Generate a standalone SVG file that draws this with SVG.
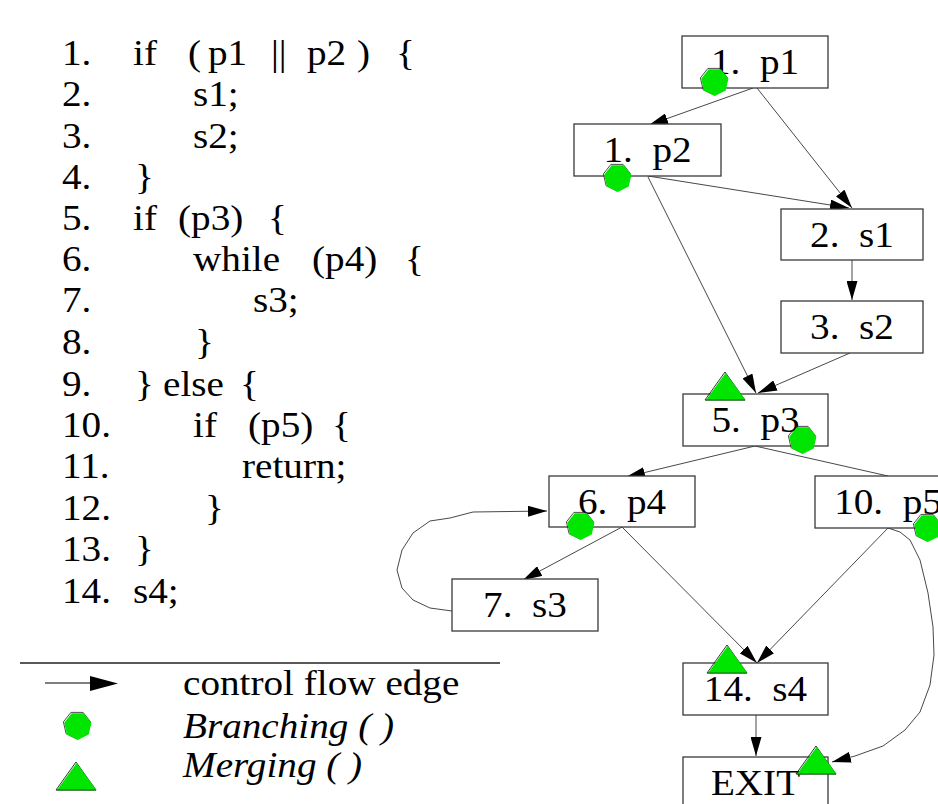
<svg xmlns="http://www.w3.org/2000/svg" xmlns:xlink="http://www.w3.org/1999/xlink" width="938" height="804" viewBox="0 0 938 804">
<style>
.t{font-family:"Liberation Serif","Times New Roman",serif;font-size:35px;fill:#000}
.i{font-style:italic}
.box{fill:#fff;stroke:#3a3a3a;stroke-width:1.3}
.edge{fill:none;stroke:#333;stroke-width:0.9}
.arr{marker-end:url(#ah)}
</style>
<defs>
<marker id="ah" viewBox="0 0 19 11" refX="19" refY="5.5" markerWidth="19" markerHeight="11" markerUnits="userSpaceOnUse" orient="auto">
<path d="M0,0 L19,5.5 L0,11 z" fill="#000"/>
</marker>
<!-- branching marker: heptagon, outline with the green fill slightly offset -->
<g id="branch">
<polygon points="0,14 -10.9,8.7 -13.6,-3.1 -6.1,-12.6 6.1,-12.6 13.6,-3.1 10.9,8.7" fill="none" stroke="#222" stroke-width="0.8"/>
<polygon points="0,14 -10.9,8.7 -13.6,-3.1 -6.1,-12.6 6.1,-12.6 13.6,-3.1 10.9,8.7" fill="#00e600" transform="translate(0.8 0.9)"/>
</g>
<!-- merging marker: triangle -->
<g id="merge">
<polygon points="0,0 -20,28 20,28" fill="none" stroke="#222" stroke-width="0.9"/>
<polygon points="0.6,1 -19.2,28.3 20.6,28.3" fill="#00e600"/>
<line x1="-19.5" y1="28" x2="20" y2="28" stroke="#1d5a1d" stroke-width="0.9"/>
</g>
</defs>

<!-- source listing -->
<g id="code">
<text class="t" transform="translate(62 65) scale(1.12 1)">1.</text>
<text class="t" transform="translate(133 65) scale(1.12 1)">if</text>
<text class="t" transform="translate(188 65) scale(1.12 1)">(</text>
<text class="t" transform="translate(208 65) scale(1.12 1)">p1</text>
<text class="t" transform="translate(271 65) scale(1.12 1)">||</text>
<text class="t" transform="translate(307 65) scale(1.12 1)">p2</text>
<text class="t" transform="translate(357 65) scale(1.12 1)">)</text>
<text class="t" transform="translate(396 65) scale(1.12 1)">{</text>

<text class="t" transform="translate(62 106) scale(1.12 1)">2.</text>
<text class="t" transform="translate(193 106) scale(1.12 1)">s1;</text>

<text class="t" transform="translate(62 148) scale(1.12 1)">3.</text>
<text class="t" transform="translate(193 148) scale(1.12 1)">s2;</text>

<text class="t" transform="translate(62 189) scale(1.12 1)">4.</text>
<text class="t" transform="translate(135 189) scale(1.12 1)">}</text>

<text class="t" transform="translate(62 230) scale(1.12 1)">5.</text>
<text class="t" transform="translate(133 230) scale(1.12 1)">if</text>
<text class="t" transform="translate(178 230) scale(1.12 1)">(p3)</text>
<text class="t" transform="translate(268 230) scale(1.12 1)">{</text>

<text class="t" transform="translate(62 271) scale(1.12 1)">6.</text>
<text class="t" transform="translate(193 271) scale(1.12 1)">while</text>
<text class="t" transform="translate(312 271) scale(1.12 1)">(p4)</text>
<text class="t" transform="translate(405 271) scale(1.12 1)">{</text>

<text class="t" transform="translate(62 312) scale(1.12 1)">7.</text>
<text class="t" transform="translate(253 312) scale(1.12 1)">s3;</text>

<text class="t" transform="translate(62 354) scale(1.12 1)">8.</text>
<text class="t" transform="translate(195 354) scale(1.12 1)">}</text>

<text class="t" transform="translate(62 396) scale(1.12 1)">9.</text>
<text class="t" transform="translate(135 396) scale(1.12 1)">}</text>
<text class="t" transform="translate(163 396) scale(1.12 1)">else</text>
<text class="t" transform="translate(240 396) scale(1.12 1)">{</text>

<text class="t" transform="translate(62 437) scale(1.12 1)">10.</text>
<text class="t" transform="translate(193 437) scale(1.12 1)">if</text>
<text class="t" transform="translate(248 437) scale(1.12 1)">(p5)</text>
<text class="t" transform="translate(332 437) scale(1.12 1)">{</text>

<text class="t" transform="translate(62 478) scale(1.12 1)">11.</text>
<text class="t" transform="translate(242 478) scale(1.12 1)">return;</text>

<text class="t" transform="translate(62 520) scale(1.12 1)">12.</text>
<text class="t" transform="translate(205 520) scale(1.12 1)">}</text>

<text class="t" transform="translate(62 561) scale(1.12 1)">13.</text>
<text class="t" transform="translate(135 561) scale(1.12 1)">}</text>

<text class="t" transform="translate(62 603) scale(1.12 1)">14.</text>
<text class="t" transform="translate(133 603) scale(1.12 1)">s4;</text>
</g>

<!-- legend -->
<g id="legend">
<line x1="20" y1="663" x2="500" y2="663" stroke="#222" stroke-width="1.3"/>
<line x1="45" y1="683" x2="92" y2="683" stroke="#000" stroke-width="1.2"/>
<polygon points="90,676 118,683.5 90,691" fill="#000"/>
<text class="t" transform="translate(183 695) scale(1.12 1)">control flow edge</text>
<use xlink:href="#branch" x="77" y="725"/>
<text class="t i" transform="translate(183 738) scale(1.12 1)">Branching ( )</text>
<use xlink:href="#merge" x="76" y="762"/>
<text class="t i" transform="translate(183 777) scale(1.12 1)">Merging ( )</text>
</g>

<!-- control flow edges -->
<g id="edges">
<line class="edge arr" x1="753" y1="88" x2="649" y2="125"/>
<line class="edge arr" x1="757" y1="88" x2="852" y2="208"/>
<line class="edge arr" x1="648" y1="176" x2="849" y2="208"/>
<line class="edge arr" x1="648" y1="177" x2="756" y2="393"/>
<line class="edge arr" x1="852" y1="260" x2="852" y2="300"/>
<line class="edge arr" x1="850" y1="353" x2="758" y2="393"/>
<line class="edge arr" x1="755" y1="446" x2="626" y2="477"/>
<line class="edge" x1="755" y1="446" x2="888" y2="476"/>
<line class="edge arr" x1="622" y1="527" x2="523" y2="580"/>
<line class="edge arr" x1="622" y1="527" x2="757" y2="663"/>
<line class="edge arr" x1="888" y1="528" x2="757" y2="663"/>
<line class="edge arr" x1="756" y1="715" x2="756" y2="756"/>
<polyline class="edge arr" points="452,611 430,608 413,600 402,588 397,570 402,550 413,533 430,521 450,518 473,512 547,511"/>
<polyline class="edge arr" points="888,528 900,532 910,540 920,560 928,593 933,627 934,655 930,685 920,712 905,730 883,746 855,756 832,762"/>
</g>

<!-- nodes -->
<g id="n1p1">
<rect class="box" x="682" y="36" width="146" height="52"/>
<text class="t" text-anchor="middle" transform="translate(755 74) scale(1.12 1)">1.&#160; p1</text>
<use xlink:href="#branch" x="714" y="81"/>
</g>
<g id="n1p2">
<rect class="box" x="574" y="124" width="147" height="52"/>
<text class="t" text-anchor="middle" transform="translate(647.5 162) scale(1.12 1)">1.&#160; p2</text>
<use xlink:href="#branch" x="617" y="177"/>
</g>
<g id="n2s1">
<rect class="box" x="781" y="209" width="142" height="51"/>
<text class="t" text-anchor="middle" transform="translate(852 247) scale(1.12 1)">2.&#160; s1</text>
</g>
<g id="n3s2">
<rect class="box" x="781" y="301" width="142" height="52"/>
<text class="t" text-anchor="middle" transform="translate(852 339) scale(1.12 1)">3.&#160; s2</text>
</g>
<g id="n5p3">
<rect class="box" x="683" y="394" width="145" height="52"/>
<text class="t" text-anchor="middle" transform="translate(755.5 432) scale(1.12 1)">5.&#160; p3</text>
<use xlink:href="#merge" x="725" y="372"/>
<use xlink:href="#branch" x="802" y="439"/>
</g>
<g id="n6p4">
<rect class="box" x="549" y="476" width="146" height="51"/>
<text class="t" text-anchor="middle" transform="translate(622 514) scale(1.12 1)">6.&#160; p4</text>
<use xlink:href="#branch" x="580" y="525"/>
</g>
<g id="n10p5">
<rect class="box" x="815" y="476" width="146" height="52"/>
<text class="t" text-anchor="middle" transform="translate(888 514) scale(1.12 1)">10.&#160; p5</text>
<use xlink:href="#branch" x="927" y="527"/>
</g>
<g id="n7s3">
<rect class="box" x="452" y="579" width="146" height="52"/>
<text class="t" text-anchor="middle" transform="translate(525 617) scale(1.12 1)">7.&#160; s3</text>
</g>
<g id="n14s4">
<rect class="box" x="683" y="663" width="145" height="52"/>
<text class="t" text-anchor="middle" transform="translate(755.5 701) scale(1.12 1)">14.&#160; s4</text>
<use xlink:href="#merge" x="727" y="645"/>
</g>
<g id="nexit">
<rect class="box" x="683" y="757" width="145" height="52"/>
<text class="t" text-anchor="middle" transform="translate(755.5 795) scale(1.12 1)">EXIT</text>
<use xlink:href="#merge" x="816" y="746"/>
</g>
</svg>
